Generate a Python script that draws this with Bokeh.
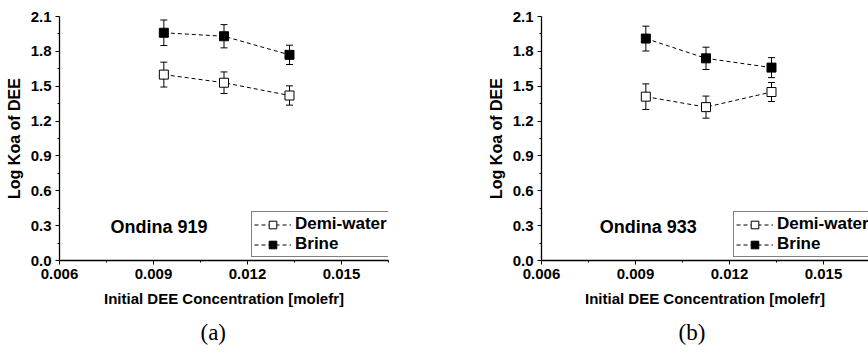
from bokeh.plotting import figure
from bokeh.layouts import row
from bokeh.models import (ColumnDataSource, Whisker, TeeHead, Legend, LegendItem,
                          FixedTicker, Range1d, Label, Title)
from bokeh.embed import file_html
from bokeh.resources import INLINE

# ---- data ----
x_conc = [0.00933, 0.01125, 0.01334]

demi_919 = [1.60, 1.53, 1.42]
demi_919_err = [0.107, 0.093, 0.083]
brine_919 = [1.96, 1.93, 1.77]
brine_919_err = [0.110, 0.100, 0.083]

demi_933 = [1.41, 1.32, 1.45]
demi_933_err = [0.110, 0.095, 0.082]
brine_933 = [1.91, 1.74, 1.66]
brine_933_err = [0.107, 0.096, 0.086]

x_ticks = [0.006, 0.009, 0.012, 0.015]
x_tick_labels = ["0.006", "0.009", "0.012", "0.015"]
x_minor = [0.0075, 0.0105, 0.0135, 0.0165]
y_ticks = [0.0, 0.3, 0.6, 0.9, 1.2, 1.5, 1.8, 2.1]
y_tick_labels = ["0.0", "0.3", "0.6", "0.9", "1.2", "1.5", "1.8", "2.1"]
y_minor = [0.15, 0.45, 0.75, 1.05, 1.35, 1.65, 1.95]

series_names = ["Demi-water", "Brine"]
panel_titles = ["Ondina 919", "Ondina 933"]
captions = ["(a)", "(b)"]
x_label = "Initial DEE Concentration [molefr]"
y_label = "Log Koa of DEE"

SANS = "Liberation Sans"
SERIF = "Liberation Serif"


def make_panel(demi, demi_err, brine, brine_err, title, caption,
               width, border_right, x_end, text_x, cap_offset):
    p = figure(width=width, height=357, output_backend="svg", toolbar_location=None,
               x_range=Range1d(0.006, x_end), y_range=Range1d(0.0, 2.1),
               min_border_left=59, min_border_right=border_right,
               min_border_top=16, min_border_bottom=97)
    p.outline_line_color = None
    p.grid.visible = False
    p.background_fill_color = "white"
    p.border_fill_color = "white"

    p.xaxis.ticker = FixedTicker(ticks=x_ticks, minor_ticks=x_minor)
    p.yaxis.ticker = FixedTicker(ticks=y_ticks, minor_ticks=y_minor)
    p.xaxis.major_label_overrides = {t: l for t, l in zip(x_ticks, x_tick_labels)}
    p.yaxis.major_label_overrides = {t: l for t, l in zip(y_ticks, y_tick_labels)}
    for ax in (p.xaxis, p.yaxis):
        ax.axis_line_color = "black"
        ax.axis_line_width = 1.3
        ax.major_tick_line_color = "black"
        ax.minor_tick_line_color = "black"
        ax.major_tick_out = 4
        ax.major_tick_in = 0
        ax.minor_tick_out = 2
        ax.minor_tick_in = 0
        ax.major_label_text_font = SANS
        ax.major_label_text_font_style = "bold"
        ax.major_label_text_font_size = "15px"
        ax.major_label_text_color = "black"
        ax.axis_label_text_font = SANS
        ax.axis_label_text_font_style = "bold"
        ax.axis_label_text_color = "black"
        ax.major_label_standoff = 4
    p.xaxis.axis_label = x_label
    p.xaxis.axis_label_text_font_size = "15px"
    p.xaxis.axis_label_standoff = 8
    p.yaxis.axis_label = y_label
    p.yaxis.axis_label_text_font_size = "16px"
    p.yaxis.axis_label_standoff = 5

    items = []
    for name, vals, errs, fill in ((series_names[0], demi, demi_err, "white"),
                                   (series_names[1], brine, brine_err, "black")):
        src = ColumnDataSource(dict(x=x_conc, y=vals,
                                    lo=[v - e for v, e in zip(vals, errs)],
                                    hi=[v + e for v, e in zip(vals, errs)]))
        w = Whisker(source=src, base="x", lower="lo", upper="hi",
                    line_color="black", line_width=1,
                    lower_head=TeeHead(size=7, line_color="black", line_width=1),
                    upper_head=TeeHead(size=7, line_color="black", line_width=1))
        p.add_layout(w)
        ln = p.line("x", "y", source=src, line_color="black", line_width=1,
                    line_dash="4 3")
        sc = p.scatter("x", "y", source=src, marker="square", size=9,
                       fill_color=fill, line_color="black", line_width=1)
        items.append(LegendItem(label=name, renderers=[ln, sc]))

    leg = Legend(items=items, location=(192, 3), margin=0, padding=2, spacing=0,
                 glyph_width=37, glyph_height=19, label_height=19, label_standoff=4,
                 label_text_font=SANS, label_text_font_style="bold",
                 label_text_font_size="17px", label_text_color="black",
                 border_line_color="black", border_line_width=1,
                 background_fill_color="white", background_fill_alpha=1.0)
    p.add_layout(leg)

    p.add_layout(Label(x=text_x, y=0.285, text=title, text_font=SANS,
                       text_font_style="bold", text_font_size="18px",
                       text_baseline="middle", text_color="black"))
    p.add_layout(Title(text=caption, align="left", offset=cap_offset, standoff=16,
                       text_font=SERIF, text_font_style="normal",
                       text_font_size="23px", text_color="black"), "below")
    return p


p1 = make_panel(demi_919, demi_919_err, brine_919, brine_919_err,
                panel_titles[0], captions[0], 482, 94, 0.0165, 0.00763, 141)
p2 = make_panel(demi_933, demi_933_err, brine_933, brine_933_err,
                panel_titles[1], captions[1], 386, 0, 0.006 + 0.0105 * 327 / 329, 0.00786, 137)

layout = row(p1, p2)
open("out.html", "w").write(file_html(layout, INLINE))
